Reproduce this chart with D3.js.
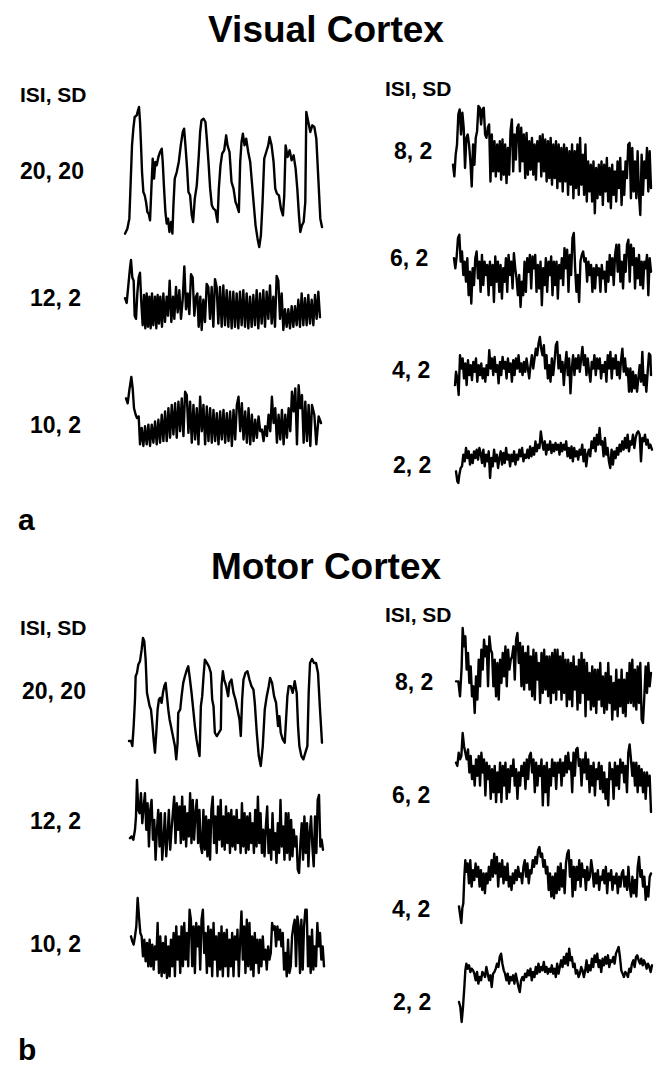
<!DOCTYPE html>
<html>
<head>
<meta charset="utf-8">
<script src="https://cdn.jsdelivr.net/npm/d3@7"></script>
<style>
html,body{margin:0;padding:0;background:#fff;}
svg{display:block;}
text{font-family:"Liberation Sans",Arial,Helvetica,sans-serif;font-weight:bold;fill:#000;}
</style>
</head>
<body>
<script>
// ---- Data: BOLD time series, [time index, signal (arbitrary units)] ----
const visual20 = [[45,65],[52,80],[58,110],[62,220],[66,330],[70,380],[74,415],[80,420],[84,435],[87,445],[90,400],[93,330],[96,250],[100,190],[104,180],[108,160],[112,130],[116,125],[120,105],[124,200],[128,290],[132,230],[136,280],[140,270],[145,295],[150,310],[155,320],[158,280],[162,200],[166,130],[170,95],[174,110],[178,70],[183,100],[187,65],[190,150],[194,230],[200,250],[206,280],[212,330],[218,370],[222,380],[226,330],[231,260],[235,190],[240,180],[245,120],[249,100],[254,170],[260,210],[266,300],[270,370],[274,405],[280,410],[286,400],[290,350],[295,280],[300,200],[305,150],[310,140],[316,135],[322,100],[326,200],[331,270],[336,305],[342,315],[348,360],[352,330],[358,310],[364,220],[370,200],[376,160],[380,150],[386,130],[390,280],[394,340],[398,365],[403,330],[408,350],[414,310],[420,280],[425,220],[430,160],[436,90],[442,50],[447,25],[452,60],[457,160],[462,290],[468,310],[474,330],[478,355],[484,330],[490,280],[495,200],[500,185],[506,180],[512,140],[518,120],[522,180],[526,330],[532,295],[538,315],[544,285],[550,300],[556,260],[561,200],[566,120],[570,70],[575,90],[580,100],[585,160],[588,430],[594,400],[600,370],[606,390],[612,385],[618,350],[624,230],[630,110],[635,85]];

const visual12 = [[45,105],[50,90],[55,145],[60,200],[63,225],[67,170],[71,160],[74,50],[78,40],[82,120],[86,170],[90,185],[94,90],[98,20],[102,115],[106,10],[110,120],[114,15],[118,110],[122,10],[126,120],[130,20],[135,110],[139,10],[143,115],[147,25],[151,110],[156,15],[160,120],[165,30],[170,110],[174,50],[179,160],[184,30],[189,110],[193,40],[198,140],[203,60],[208,130],[213,40],[218,100],[223,205],[228,70],[233,120],[238,55],[243,180],[248,170],[253,50],[258,110],[262,120],[266,15],[271,110],[275,5],[280,100],[285,30],[290,150],[295,140],[300,40],[305,140],[310,15],[315,165],[320,140],[325,25],[330,140],[335,15],[340,145],[345,20],[350,130],[355,15],[360,125],[365,10],[370,125],[375,15],[380,120],[385,10],[390,125],[395,20],[400,130],[405,15],[410,120],[415,10],[420,110],[425,15],[430,115],[435,20],[440,130],[445,10],[450,120],[455,25],[460,130],[465,15],[470,125],[475,40],[480,145],[485,25],[490,110],[495,15],[500,175],[505,160],[510,40],[515,120],[520,5],[525,70],[530,15],[535,70],[540,10],[545,80],[550,15],[555,80],[560,20],[565,100],[570,15],[575,120],[580,20],[585,105],[590,20],[595,115],[600,25],[605,100],[610,20],[615,115],[620,40],[625,125],[630,45]];

const visual10 = [[48,155],[53,140],[58,180],[64,220],[68,185],[72,125],[77,105],[81,95],[86,100],[90,15],[95,65],[100,10],[105,70],[110,15],[115,75],[120,10],[125,75],[130,20],[135,85],[140,15],[145,90],[150,20],[155,105],[160,25],[165,115],[170,25],[175,125],[180,35],[185,135],[190,45],[195,140],[200,35],[205,145],[210,55],[215,155],[220,40],[225,175],[230,165],[235,50],[240,145],[245,20],[250,135],[255,30],[260,125],[265,15],[270,160],[275,55],[280,135],[285,15],[290,130],[295,25],[300,125],[305,20],[310,120],[315,25],[320,110],[325,15],[330,115],[335,30],[340,120],[345,20],[350,110],[355,25],[360,115],[365,10],[370,120],[375,30],[380,135],[385,160],[390,55],[395,140],[400,30],[405,115],[410,20],[415,125],[420,15],[425,105],[430,25],[435,90],[440,35],[445,100],[450,55],[455,60],[460,25],[465,70],[470,40],[475,105],[480,55],[485,160],[490,80],[495,125],[500,20],[505,105],[510,30],[515,120],[520,15],[525,105],[530,35],[535,125],[540,55],[545,175],[550,115],[555,185],[560,15],[565,195],[570,125],[575,165],[580,20],[585,145],[590,25],[595,135],[600,10],[605,135],[612,105],[618,15],[625,100],[632,80]];

const visual8 = [[40,165],[44,130],[48,195],[52,225],[56,315],[60,330],[64,255],[68,320],[72,275],[76,155],[80,245],[84,255],[88,225],[92,175],[96,100],[100,225],[104,165],[108,245],[112,265],[116,340],[120,335],[124,285],[128,330],[132,335],[136,255],[140,245],[144,275],[148,285],[152,115],[156,255],[160,145],[164,235],[168,130],[172,225],[176,145],[180,235],[184,120],[188,240],[192,135],[196,225],[200,110],[204,215],[208,135],[212,265],[216,300],[220,145],[224,255],[228,180],[232,275],[236,285],[240,145],[244,275],[248,175],[252,255],[256,125],[260,260],[264,135],[268,235],[272,150],[276,245],[280,135],[284,225],[288,120],[292,235],[296,175],[300,250],[304,130],[308,255],[312,145],[316,240],[320,115],[324,235],[328,125],[332,245],[336,105],[340,225],[344,125],[348,235],[352,95],[356,225],[360,115],[364,215],[368,85],[372,225],[376,115],[380,215],[384,75],[388,205],[392,105],[396,225],[400,65],[404,205],[408,95],[412,225],[416,75],[420,245],[424,105],[428,195],[432,75],[436,225],[440,55],[444,175],[448,85],[452,165],[456,55],[460,175],[464,20],[468,155],[472,65],[476,165],[480,75],[484,175],[488,45],[492,165],[496,85],[500,185],[504,55],[508,155],[512,35],[516,165],[520,75],[524,145],[528,55],[532,175],[536,95],[540,185],[544,45],[548,145],[552,75],[556,175],[560,125],[564,225],[568,230],[572,65],[576,215],[580,85],[584,175],[588,65],[592,205],[596,75],[600,15],[604,195],[608,75],[612,175],[616,125],[620,215],[624,85],[628,205],[632,95]];

const visual6 = [[42,170],[46,140],[50,175],[54,230],[58,240],[62,160],[66,190],[70,120],[74,160],[78,100],[82,170],[86,60],[90,130],[94,35],[98,140],[102,90],[106,170],[110,190],[114,110],[118,160],[122,70],[126,180],[130,90],[134,160],[138,120],[142,150],[146,60],[150,160],[154,90],[158,150],[162,40],[166,175],[170,100],[174,160],[178,70],[182,150],[186,50],[190,140],[194,100],[198,170],[202,70],[206,180],[210,120],[214,160],[218,80],[222,185],[226,140],[230,110],[234,60],[238,120],[242,25],[246,100],[250,60],[254,160],[258,70],[262,170],[266,130],[270,180],[274,80],[278,175],[282,140],[286,180],[290,70],[294,150],[298,80],[302,160],[306,30],[310,140],[314,90],[318,170],[322,70],[326,160],[330,120],[334,175],[338,60],[342,160],[346,90],[350,160],[354,50],[358,150],[362,110],[366,170],[370,90],[374,200],[378,140],[382,195],[386,70],[390,180],[394,120],[398,230],[402,245],[406,140],[410,70],[414,120],[418,40],[422,160],[426,180],[430,190],[434,160],[438,170],[442,100],[446,160],[450,120],[454,150],[458,70],[462,140],[466,80],[470,150],[474,120],[478,140],[482,70],[486,150],[490,110],[494,130],[498,70],[502,160],[506,100],[510,180],[514,120],[518,170],[522,90],[526,180],[530,210],[534,130],[538,210],[542,100],[546,160],[550,80],[554,180],[558,130],[562,210],[566,225],[570,100],[574,210],[578,150],[582,200],[586,80],[590,170],[594,110],[598,180],[602,90],[606,160],[610,80],[614,160],[618,140],[622,180],[626,60],[630,170],[634,130]];

const visual4 = [[45,50],[48,90],[52,70],[56,20],[60,140],[64,100],[68,130],[72,70],[76,115],[80,50],[84,125],[88,80],[92,110],[96,65],[100,120],[104,90],[108,130],[112,60],[116,110],[120,80],[124,115],[128,70],[132,100],[136,60],[140,110],[144,80],[148,155],[152,100],[156,130],[160,80],[164,135],[168,90],[172,110],[176,55],[180,120],[184,80],[188,135],[192,100],[196,120],[200,70],[204,130],[208,90],[212,115],[216,60],[220,125],[224,80],[228,130],[232,100],[236,140],[240,90],[244,115],[248,80],[252,120],[256,90],[260,130],[264,100],[268,70],[272,110],[276,140],[280,100],[284,130],[288,160],[292,140],[296,175],[300,195],[304,160],[308,140],[312,170],[316,100],[320,140],[324,70],[328,110],[332,60],[336,130],[340,80],[344,120],[348,170],[352,180],[356,100],[360,140],[364,90],[368,120],[372,50],[376,110],[380,150],[384,80],[388,130],[392,25],[396,100],[400,140],[404,80],[408,130],[412,100],[416,140],[420,90],[424,130],[428,165],[432,110],[436,140],[440,80],[444,130],[448,90],[452,60],[456,120],[460,100],[464,140],[468,80],[472,130],[476,100],[480,130],[484,70],[488,110],[492,90],[496,120],[500,60],[504,140],[508,100],[512,150],[516,70],[520,130],[524,100],[528,140],[532,80],[536,120],[540,70],[544,125],[548,160],[552,90],[556,130],[560,80],[564,100],[568,30],[572,100],[576,30],[580,90],[584,40],[588,80],[592,30],[596,70],[600,110],[604,60],[608,150],[612,50],[616,80],[620,30],[624,90],[628,145],[632,140],[634,80]];

const visual2 = [[48,50],[52,20],[55,15],[58,40],[62,60],[66,65],[70,100],[74,80],[78,120],[82,90],[86,110],[90,70],[94,100],[98,75],[102,110],[106,90],[110,115],[114,85],[118,120],[122,105],[126,75],[130,115],[134,65],[138,100],[142,80],[146,110],[150,30],[154,90],[158,65],[162,115],[166,80],[170,100],[174,60],[178,90],[182,110],[186,70],[190,105],[194,75],[198,120],[202,85],[206,100],[210,65],[214,100],[218,80],[222,110],[226,70],[230,100],[234,85],[238,115],[242,95],[246,120],[250,80],[254,100],[258,90],[262,115],[266,90],[270,125],[274,95],[278,120],[282,100],[286,140],[290,110],[294,130],[298,120],[302,170],[306,140],[310,115],[314,140],[318,100],[322,130],[326,115],[330,140],[334,105],[338,130],[342,110],[346,135],[350,115],[354,130],[358,100],[362,135],[366,110],[370,130],[374,115],[378,140],[382,95],[386,120],[390,90],[394,125],[398,80],[402,120],[406,95],[410,110],[414,85],[418,115],[422,100],[426,130],[430,80],[434,115],[438,65],[442,100],[446,115],[450,95],[454,140],[458,120],[462,150],[466,110],[470,160],[474,130],[478,180],[482,130],[486,140],[490,95],[494,150],[498,100],[502,120],[506,80],[510,60],[514,115],[518,70],[522,110],[526,90],[530,120],[534,100],[538,130],[542,110],[546,140],[550,115],[554,150],[558,120],[562,160],[566,110],[570,140],[574,130],[578,160],[582,120],[586,150],[590,165],[594,170],[598,160],[602,80],[606,150],[610,140],[614,160],[618,130],[622,145],[626,120],[630,130],[635,115]];

const motor20 = [[42,85],[48,85],[52,70],[56,130],[60,210],[62,280],[66,290],[70,315],[75,325],[80,360],[84,395],[88,385],[92,330],[96,230],[100,210],[104,190],[108,180],[112,140],[116,90],[120,50],[124,110],[128,180],[132,210],[136,215],[140,200],[144,230],[148,250],[152,260],[156,220],[160,180],[164,150],[168,130],[172,110],[176,90],[180,70],[184,30],[188,80],[190,170],[196,180],[200,220],[205,260],[210,280],[216,300],[220,310],[224,280],[230,230],[235,180],[240,130],[245,90],[250,60],[254,40],[258,190],[262,220],[266,280],[270,330],[276,320],[282,310],[288,290],[292,210],[296,190],[300,110],[306,100],[312,110],[318,120],[320,250],[324,295],[328,270],[334,250],[340,220],[344,260],[350,270],[356,230],[362,210],[368,180],[374,150],[378,100],[382,210],[386,270],[392,290],[398,295],[404,270],[410,250],[416,240],[420,200],[426,110],[432,40],[438,10],[444,70],[450,180],[456,220],[462,250],[466,275],[472,260],[478,220],[484,200],[490,130],[494,160],[498,110],[504,90],[510,80],[514,150],[518,220],[522,250],[528,250],[534,230],[540,265],[546,230],[550,130],[554,70],[560,40],[566,30],[572,50],[578,70],[582,230],[586,320],[592,332],[598,320],[604,320],[610,290],[616,180],[622,80]];

const motor12 = [[45,115],[50,120],[55,110],[60,140],[63,180],[66,290],[70,200],[74,190],[78,250],[82,160],[86,210],[90,250],[94,140],[98,220],[102,90],[106,200],[110,230],[114,110],[118,170],[122,50],[126,140],[130,200],[134,90],[138,190],[142,50],[146,110],[150,190],[154,60],[158,120],[162,200],[166,80],[170,140],[174,190],[178,240],[182,100],[186,220],[190,140],[194,210],[198,100],[202,240],[206,110],[210,210],[214,90],[218,190],[222,120],[226,250],[230,100],[234,230],[238,110],[242,190],[246,230],[250,100],[254,200],[258,90],[262,70],[266,200],[270,80],[274,180],[278,60],[282,170],[286,50],[290,200],[294,240],[298,100],[302,180],[306,70],[310,210],[314,110],[318,230],[322,90],[326,180],[330,80],[334,210],[338,100],[342,190],[346,70],[350,200],[354,90],[358,180],[362,80],[366,200],[370,100],[374,170],[378,70],[382,220],[386,90],[390,190],[394,70],[398,180],[402,80],[406,190],[410,100],[414,160],[418,70],[422,200],[426,90],[430,240],[434,100],[438,190],[442,70],[446,140],[450,60],[454,150],[458,210],[462,70],[466,140],[470,50],[474,190],[478,80],[482,130],[486,40],[490,160],[494,70],[498,230],[502,90],[506,150],[510,50],[514,190],[518,70],[522,190],[526,50],[530,170],[534,60],[538,140],[542,90],[546,120],[550,20],[554,10],[558,100],[562,160],[566,50],[570,180],[574,70],[578,160],[582,30],[586,130],[590,180],[594,90],[598,30],[602,180],[606,70],[610,230],[614,245],[618,90],[622,110],[626,80]];

const motor10 = [[48,130],[52,115],[56,105],[60,130],[64,160],[68,245],[72,190],[76,140],[80,130],[84,70],[88,120],[92,55],[96,110],[100,40],[104,120],[108,40],[112,105],[116,30],[120,100],[124,60],[128,170],[132,20],[136,130],[140,10],[144,110],[148,20],[152,130],[156,5],[160,100],[164,10],[168,120],[172,40],[176,140],[180,10],[184,160],[188,60],[192,130],[196,20],[200,160],[204,40],[208,170],[212,60],[216,140],[220,40],[224,210],[228,180],[232,40],[236,160],[240,20],[244,170],[248,100],[252,160],[256,30],[260,180],[264,210],[268,80],[272,140],[276,20],[280,160],[284,40],[288,150],[292,10],[296,170],[300,60],[304,130],[308,10],[312,140],[316,30],[320,160],[324,10],[328,140],[332,40],[336,150],[340,10],[344,120],[348,40],[352,140],[356,10],[360,130],[364,60],[368,150],[372,10],[376,120],[380,205],[384,60],[388,160],[392,20],[396,180],[400,40],[404,170],[408,30],[412,130],[416,10],[420,140],[424,50],[428,120],[432,20],[436,120],[440,40],[444,130],[448,60],[452,90],[456,30],[460,100],[464,60],[468,80],[472,170],[476,150],[480,160],[484,100],[488,160],[492,120],[496,150],[500,100],[504,140],[508,30],[512,80],[516,10],[520,120],[524,20],[528,40],[532,130],[536,160],[540,180],[544,40],[548,190],[552,160],[556,20],[560,180],[564,30],[568,160],[572,210],[576,210],[580,40],[584,130],[588,20],[592,150],[596,30],[600,100],[604,40],[608,170],[612,100],[616,140],[620,60],[624,100],[628,40]];

const motor8 = [[48,135],[55,135],[60,90],[65,180],[68,295],[72,240],[76,270],[80,170],[84,220],[88,130],[92,180],[96,90],[100,120],[104,40],[108,150],[112,80],[116,200],[120,120],[124,230],[128,170],[132,260],[136,210],[140,240],[144,120],[148,270],[152,230],[156,220],[160,120],[164,200],[168,90],[172,190],[176,80],[180,200],[184,130],[188,220],[192,150],[196,240],[200,120],[204,230],[208,170],[212,200],[216,210],[220,240],[224,140],[228,260],[232,280],[236,190],[240,250],[244,120],[248,240],[252,110],[256,220],[260,130],[264,240],[268,110],[272,210],[276,90],[280,230],[284,80],[288,220],[292,140],[296,190],[300,70],[304,220],[308,100],[312,230],[316,110],[320,210],[324,90],[328,210],[332,70],[336,220],[340,100],[344,230],[348,80],[352,230],[356,110],[360,210],[364,80],[368,220],[372,100],[376,200],[380,60],[384,200],[388,80],[392,190],[396,60],[400,210],[404,110],[408,180],[412,50],[416,200],[420,70],[424,220],[428,100],[432,200],[436,30],[440,190],[444,80],[448,160],[452,50],[456,180],[460,60],[464,170],[468,40],[472,170],[476,80],[480,190],[484,60],[488,150],[492,40],[496,160],[500,50],[504,190],[508,70],[512,150],[516,20],[520,130],[524,50],[528,170],[532,30],[536,140],[540,60],[544,170],[548,40],[552,140],[556,30],[560,160],[564,70],[568,190],[572,70],[576,200],[580,60],[584,170],[588,50],[592,180],[596,70],[600,190],[604,20],[608,10],[612,90],[616,180],[620,100],[624,190],[628,120],[632,160]];

const motor6 = [[48,160],[52,150],[56,190],[60,170],[64,180],[68,250],[72,210],[76,190],[80,170],[84,200],[88,130],[92,180],[96,110],[100,150],[104,90],[108,170],[112,120],[116,180],[120,90],[124,190],[128,130],[132,170],[136,60],[140,160],[144,110],[148,150],[152,50],[156,140],[160,70],[164,150],[168,40],[172,130],[176,70],[180,160],[184,40],[188,150],[192,90],[196,160],[200,50],[204,140],[208,70],[212,150],[216,120],[220,170],[224,90],[228,140],[232,50],[236,130],[240,90],[244,150],[248,120],[252,160],[256,80],[260,170],[264,110],[268,180],[272,190],[276,130],[280,170],[284,70],[288,160],[292,90],[296,150],[300,120],[304,170],[308,30],[312,150],[316,70],[320,160],[324,30],[328,140],[332,90],[336,170],[340,120],[344,160],[348,80],[352,160],[356,130],[360,170],[364,90],[368,160],[372,120],[376,180],[380,130],[384,190],[388,140],[392,160],[396,70],[400,190],[404,120],[408,200],[412,205],[416,150],[420,170],[424,90],[428,170],[432,130],[436,190],[440,110],[444,170],[448,70],[452,150],[456,90],[460,160],[464,60],[468,140],[472,110],[476,160],[480,80],[484,150],[488,70],[492,130],[496,50],[500,110],[504,30],[508,160],[512,110],[516,140],[520,50],[524,160],[528,90],[532,150],[536,80],[540,170],[544,130],[548,160],[552,100],[556,150],[560,70],[564,190],[568,215],[572,170],[576,120],[580,160],[584,90],[588,160],[592,70],[596,150],[600,90],[604,140],[608,70],[612,130],[616,50],[620,130],[624,90],[628,120],[632,10]];

const motor4 = [[56,60],[60,30],[63,10],[66,55],[69,70],[72,150],[75,200],[78,165],[82,190],[86,130],[90,200],[94,120],[98,170],[102,140],[106,190],[110,150],[114,180],[118,120],[122,170],[126,110],[130,160],[134,100],[138,160],[142,130],[146,180],[150,140],[154,200],[158,150],[162,220],[166,160],[170,210],[174,120],[178,190],[182,150],[186,200],[190,130],[194,180],[198,140],[202,190],[206,120],[210,150],[214,110],[218,160],[222,130],[226,170],[230,140],[234,180],[238,150],[242,160],[246,130],[250,180],[254,200],[258,150],[262,190],[266,130],[270,170],[274,160],[278,200],[282,180],[286,210],[290,190],[294,230],[298,240],[302,210],[306,220],[310,180],[314,200],[318,160],[322,180],[326,110],[330,160],[334,90],[338,150],[342,85],[346,160],[350,100],[354,180],[358,110],[362,190],[366,120],[370,170],[374,100],[378,190],[382,220],[386,230],[390,150],[394,200],[398,90],[402,180],[406,110],[410,180],[414,140],[418,200],[422,120],[426,190],[430,150],[434,170],[438,110],[442,180],[446,140],[450,150],[454,200],[458,170],[462,120],[466,160],[470,130],[474,170],[478,110],[482,150],[486,140],[490,170],[494,130],[498,180],[502,100],[506,160],[510,140],[514,170],[518,110],[522,150],[526,130],[530,160],[534,100],[538,150],[542,120],[546,160],[550,170],[554,120],[558,150],[562,110],[566,180],[570,120],[574,90],[578,150],[582,100],[586,140],[590,90],[594,180],[598,210],[602,150],[606,170],[610,120],[614,150],[618,80],[622,120],[626,90],[630,150],[634,160]];

const motor2 = [[58,70],[62,55],[66,10],[70,55],[74,115],[77,165],[80,185],[84,170],[88,180],[92,160],[96,170],[100,165],[104,155],[108,135],[112,160],[116,125],[120,145],[124,135],[128,160],[132,155],[136,145],[140,175],[144,155],[148,135],[152,150],[156,115],[160,155],[164,160],[168,170],[172,185],[176,175],[180,205],[184,215],[188,185],[192,165],[196,155],[200,135],[204,155],[208,125],[212,145],[216,135],[220,150],[224,125],[228,155],[232,135],[236,115],[240,100],[244,135],[248,145],[252,135],[256,155],[260,145],[264,165],[268,150],[272,170],[276,135],[280,160],[284,145],[288,175],[292,155],[296,185],[300,160],[304,175],[308,165],[312,190],[316,160],[320,175],[324,155],[328,170],[332,160],[336,180],[340,155],[344,170],[348,145],[352,185],[356,155],[360,175],[364,195],[368,175],[372,205],[376,185],[380,215],[384,180],[388,230],[392,195],[396,205],[400,175],[404,185],[408,155],[412,165],[416,145],[420,155],[424,175],[428,165],[432,145],[436,165],[440,195],[444,160],[448,180],[452,165],[456,200],[460,175],[464,210],[468,190],[472,215],[476,175],[480,195],[484,160],[488,200],[492,180],[496,205],[500,185],[504,210],[508,175],[512,195],[516,190],[520,205],[524,185],[528,215],[532,225],[536,235],[540,205],[544,165],[548,155],[552,145],[556,160],[560,155],[564,145],[568,170],[572,160],[576,185],[580,195],[584,175],[588,205],[592,210],[596,195],[600,185],[604,200],[608,180],[612,195],[616,185],[620,170],[624,185],[628,175],[632,160],[636,180]];

// ---- Text ----
const panelTitles = ["Visual Cortex", "Motor Cortex"];
const panelLetters = ["a", "b"];
const headerLabel = "ISI, SD";
const leftLabels = ["20, 20", "12, 2", "10, 2"];
const rightLabels = ["8, 2", "6, 2", "4, 2", "2, 2"];

// ---- Layout (pixel boxes for each trace) ----
const W = 662, H = 1069;
const traces = [
  {data: visual20, box: [125, 322, 107, 247]},
  {data: visual12, box: [125, 320, 260, 330]},
  {data: visual10, box: [126, 321, 377, 446]},
  {data: visual8,  box: [453, 651, 106, 215]},
  {data: visual6,  box: [454, 651, 233, 307]},
  {data: visual4,  box: [455, 651, 337, 395]},
  {data: visual2,  box: [456, 652, 428, 483]},
  {data: motor20,  box: [129, 322, 638, 766]},
  {data: motor12,  box: [130, 323, 780, 873]},
  {data: motor10,  box: [131, 324, 898, 978]},
  {data: motor8,   box: [456, 651, 628, 723]},
  {data: motor6,   box: [456, 651, 733, 812]},
  {data: motor4,   box: [459, 651, 847, 923]},
  {data: motor2,   box: [459, 652, 947, 1022]}
];

const svg = d3.select("body").append("svg").attr("width", W).attr("height", H);

traces.forEach(tr => {
  const [x0, x1, y0, y1] = tr.box;
  const x = d3.scaleLinear().domain(d3.extent(tr.data, d => d[0])).range([x0, x1]);
  const y = d3.scaleLinear().domain(d3.extent(tr.data, d => d[1])).range([y1, y0]);
  const line = d3.line().x(d => x(d[0])).y(d => y(d[1]));
  svg.append("path").datum(tr.data)
    .attr("d", line)
    .attr("fill", "none")
    .attr("stroke", "#000")
    .attr("stroke-width", 2.4)
    .attr("stroke-linejoin", "round")
    .attr("stroke-linecap", "round");
});

// panel texts
const panels = [
  {title: panelTitles[0], titleY: 42, letter: panelLetters[0], letterY: 530,
   leftHead: 102, rightHead: 96,
   left: [[20, 179], [30, 306], [30, 433]],
   right: [[394, 159], [390, 266], [392, 378], [393, 473]]},
  {title: panelTitles[1], titleY: 579, letter: panelLetters[1], letterY: 1060,
   leftHead: 635, rightHead: 622,
   left: [[22, 699], [30, 829], [30, 952]],
   right: [[395, 690], [392, 803], [392, 917], [393, 1010]]}
];

panels.forEach(p => {
  svg.append("text").attr("x", 326).attr("y", p.titleY).attr("text-anchor", "middle")
    .style("font-size", "37px").text(p.title);
  svg.append("text").attr("x", 18).attr("y", p.letterY).style("font-size", "30px").text(p.letter);
  svg.append("text").attr("x", 20).attr("y", p.leftHead).style("font-size", "21px").text(headerLabel);
  svg.append("text").attr("x", 385).attr("y", p.rightHead).style("font-size", "21px").text(headerLabel);
  leftLabels.forEach((t, i) => {
    svg.append("text").attr("x", p.left[i][0]).attr("y", p.left[i][1]).style("font-size", "23px").text(t);
  });
  rightLabels.forEach((t, i) => {
    svg.append("text").attr("x", p.right[i][0]).attr("y", p.right[i][1]).style("font-size", "23px").text(t);
  });
});
</script>
</body>
</html>
